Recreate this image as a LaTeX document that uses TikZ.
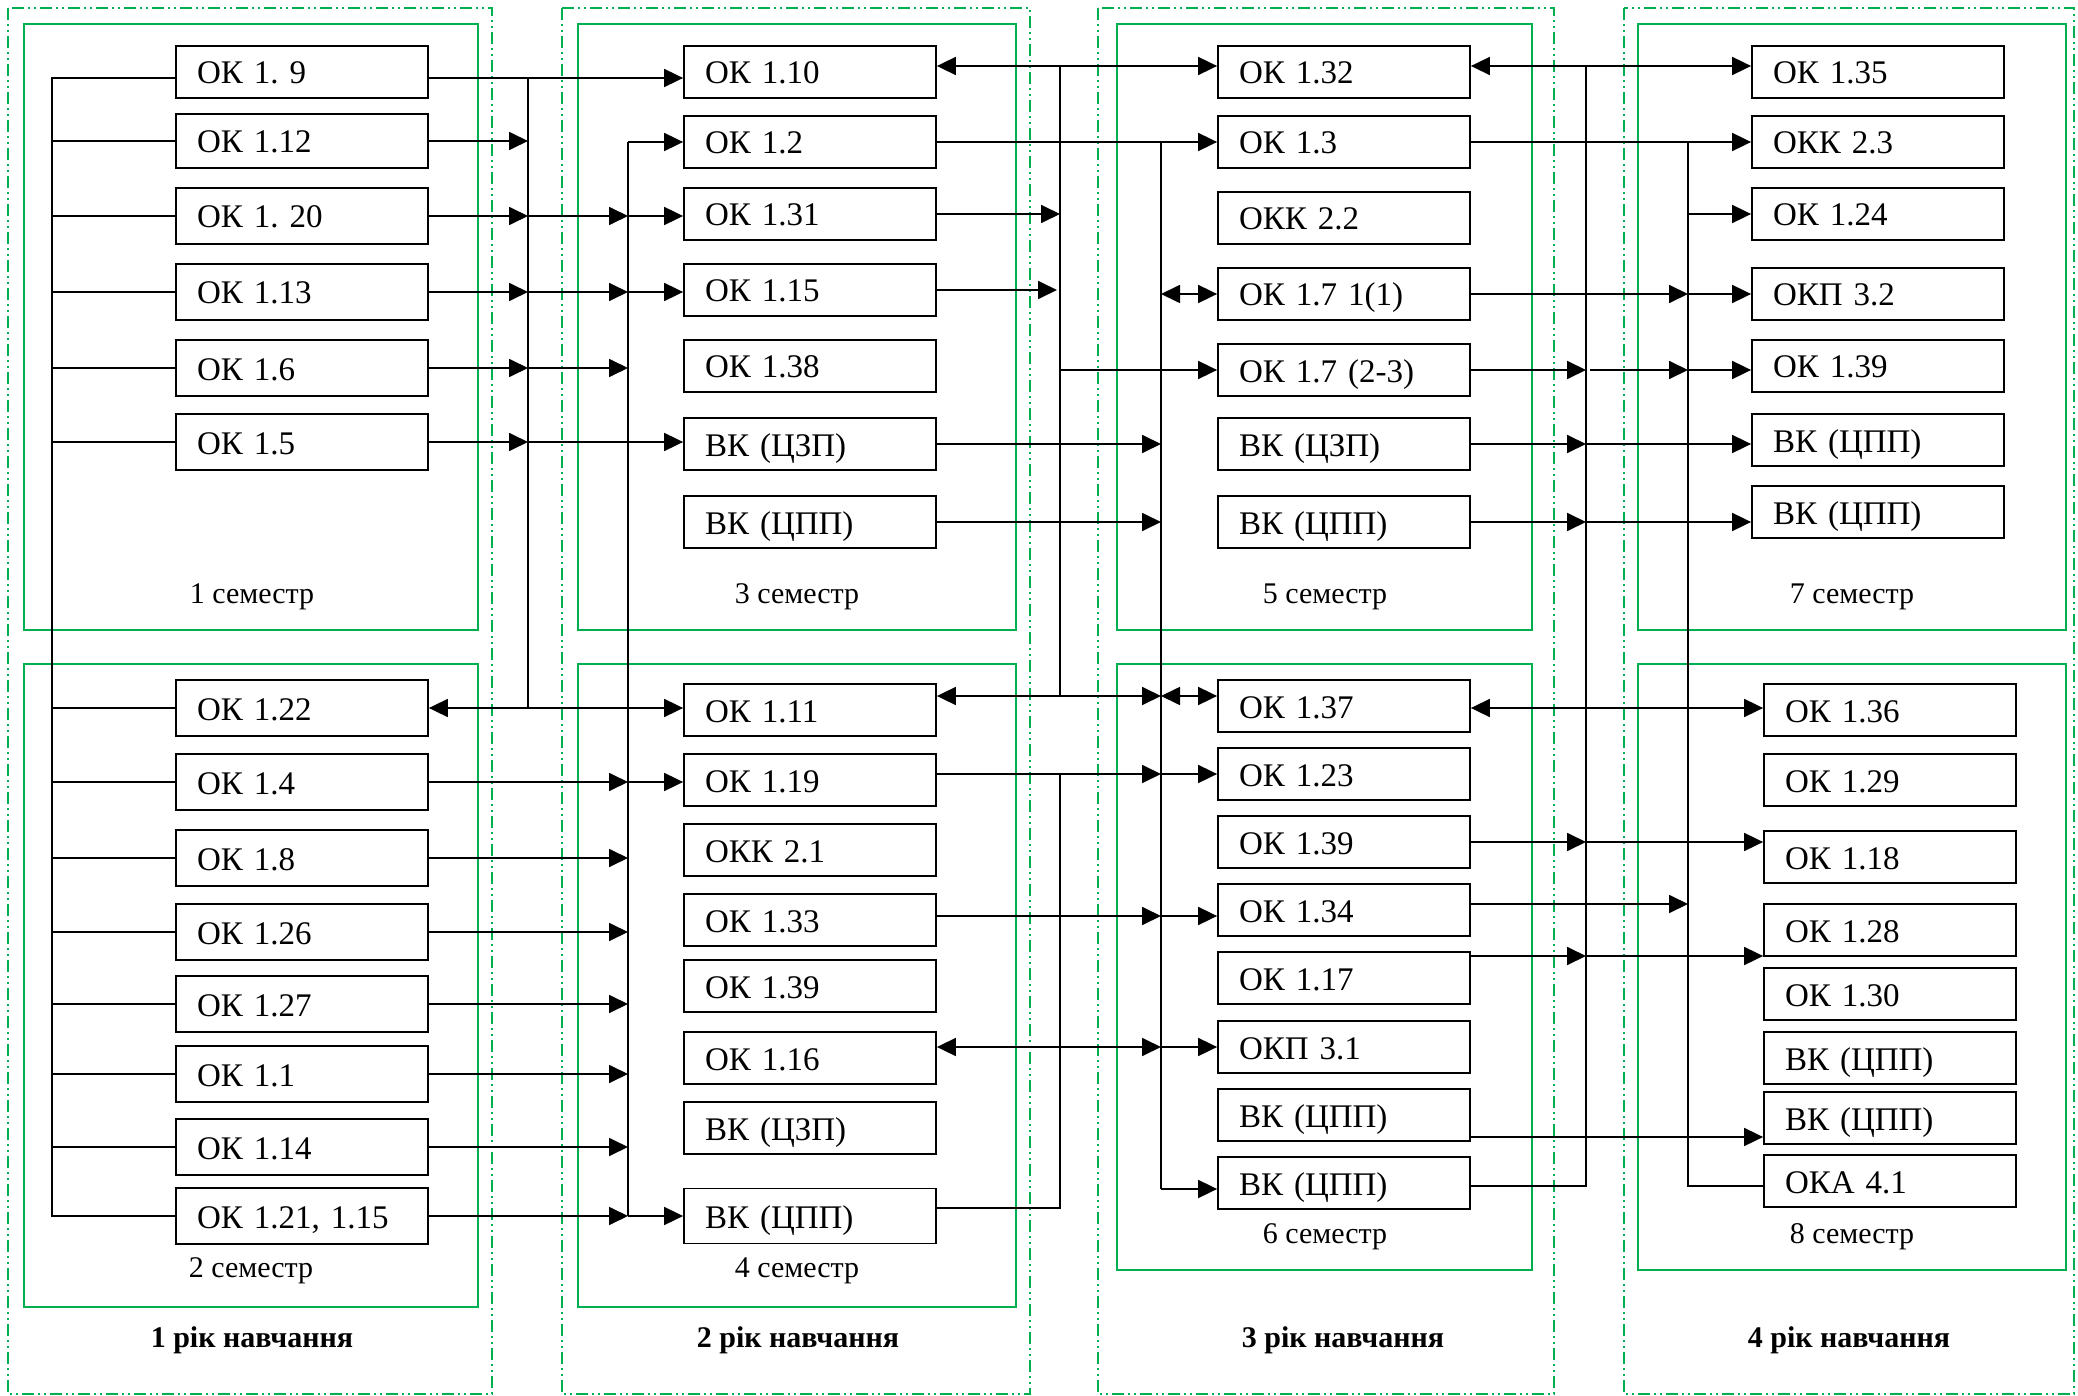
\documentclass[tikz,border=0pt]{standalone}
\usepackage{fontspec}
\setmainfont{Liberation Serif}
\usetikzlibrary{arrows.meta}
\definecolor{sgreen}{RGB}{0,176,80}
\frenchspacing
\begin{document}
\begin{tikzpicture}[x=0.5pt,y=-0.5pt,
 box/.style={draw, line width=0.9pt, fill=white, minimum width=126pt, minimum height=26pt, text width=105pt, inner xsep=10.5pt, inner ysep=0pt, align=left, text height=12pt, text depth=0pt, font=\fontsize{16.5}{19}\selectfont},
 boxa/.style={box, minimum height=28pt},
 semframe/.style={draw=sgreen, line width=0.75pt},
 yearframe/.style={draw=sgreen, line width=0.75pt, dash pattern=on 6pt off 2pt on 1pt off 2pt on 1pt off 2pt},
 ln/.style={line width=0.9pt},
 arr/.style={ln, -{Triangle[length=9.5pt,width=9pt]}},
 arrtwo/.style={ln, {Triangle[length=9.5pt,width=9pt]}-{Triangle[length=9.5pt,width=9pt]}},
 semlbl/.style={font=\fontsize{15}{18}\selectfont, inner sep=0pt, anchor=base},
 yearlbl/.style={font=\fontsize{15}{18}\selectfont\bfseries, inner sep=0pt, anchor=base}]
\useasboundingbox (0,0) rectangle (2078,1396);
% frames
\draw[yearframe] (8,8) rectangle (492,1394);
\draw[yearframe] (562,8) rectangle (1030,1394);
\draw[yearframe] (1098,8) rectangle (1554,1394);
\draw[yearframe] (1624,8) rectangle (2074,1394);
\draw[semframe] (24,24) rectangle (478,630);
\draw[semframe] (24,664) rectangle (478,1307);
\draw[semframe] (578,24) rectangle (1016,630);
\draw[semframe] (578,664) rectangle (1016,1307);
\draw[semframe] (1117,24) rectangle (1532,630);
\draw[semframe] (1117,664) rectangle (1532,1270);
\draw[semframe] (1638,24) rectangle (2066,630);
\draw[semframe] (1638,664) rectangle (2066,1270);
% labels
\node[semlbl] (s1) at (252,603) {1 семестр};
\node[semlbl] (s2) at (251,1277) {2 семестр};
\node[semlbl] (s3) at (797,603) {3 семестр};
\node[semlbl] (s4) at (797,1277) {4 семестр};
\node[semlbl] (s5) at (1325,603) {5 семестр};
\node[semlbl] (s6) at (1325,1243) {6 семестр};
\node[semlbl] (s7) at (1852,603) {7 семестр};
\node[semlbl] (s8) at (1852,1243) {8 семестр};
\node[yearlbl] (y1) at (252,1347) {1 рік навчання};
\node[yearlbl] (y2) at (798,1347) {2 рік навчання};
\node[yearlbl] (y3) at (1343,1347) {3 рік навчання};
\node[yearlbl] (y4) at (1849,1347) {4 рік навчання};
% year 1
\node[box] (ok19) at (302,72) {ОК 1. 9};
\node[box, minimum height=27pt] (ok112) at (302,141) {ОК 1.12};
\node[boxa] (ok120) at (302,216) {ОК 1. 20};
\node[boxa] (ok113) at (302,292) {ОК 1.13};
\node[boxa] (ok16) at (302,368) {ОК 1.6};
\node[boxa] (ok15) at (302,442) {ОК 1.5};
\node[boxa] (ok122) at (302,708) {ОК 1.22};
\node[boxa] (ok14) at (302,782) {ОК 1.4};
\node[boxa] (ok18) at (302,858) {ОК 1.8};
\node[boxa] (ok126) at (302,932) {ОК 1.26};
\node[boxa] (ok127) at (302,1004) {ОК 1.27};
\node[boxa] (ok11) at (302,1074) {ОК 1.1};
\node[boxa] (ok114) at (302,1147) {ОК 1.14};
\node[boxa] (ok121) at (302,1216) {ОК 1.21, 1.15};
% year 2
\node[box] (ok110) at (810,72) {ОК 1.10};
\node[box] (ok12) at (810,142) {ОК 1.2};
\node[box] (ok131) at (810,214) {ОК 1.31};
\node[box] (ok115) at (810,290) {ОК 1.15};
\node[box] (ok138) at (810,366) {ОК 1.38};
\node[box] (vkz3) at (810,444) {ВК (ЦЗП)};
\node[box] (vkp3) at (810,522) {ВК (ЦПП)};
\node[box] (ok111) at (810,710) {ОК 1.11};
\node[box] (ok119) at (810,780) {ОК 1.19};
\node[box] (okk21) at (810,850) {ОКК 2.1};
\node[box] (ok133) at (810,920) {ОК 1.33};
\node[box] (ok139b) at (810,986) {ОК 1.39};
\node[box] (ok116) at (810,1058) {ОК 1.16};
\node[box] (vkz4) at (810,1128) {ВК (ЦЗП)};
\node[box, minimum height=27.5pt] (vkp4) at (810,1216) {ВК (ЦПП)};
% year 3
\node[box] (ok132) at (1344,72) {ОК 1.32};
\node[box] (ok13) at (1344,142) {ОК 1.3};
\node[box] (okk22) at (1344,218) {ОКК 2.2};
\node[box] (ok171) at (1344,294) {ОК 1.7 1(1)};
\node[box] (ok1723) at (1344,370) {ОК 1.7 (2-3)};
\node[box] (vkz5) at (1344,444) {ВК (ЦЗП)};
\node[box] (vkp5) at (1344,522) {ВК (ЦПП)};
\node[box] (ok137) at (1344,706) {ОК 1.37};
\node[box] (ok123) at (1344,774) {ОК 1.23};
\node[box] (ok139c) at (1344,842) {ОК 1.39};
\node[box] (ok134) at (1344,910) {ОК 1.34};
\node[box] (ok117) at (1344,978) {ОК 1.17};
\node[box] (okp31) at (1344,1047) {ОКП 3.1};
\node[box] (vkp6a) at (1344,1115) {ВК (ЦПП)};
\node[box] (vkp6b) at (1344,1183) {ВК (ЦПП)};
% year 4
\node[box] (ok135) at (1878,72) {ОК 1.35};
\node[box] (okk23) at (1878,142) {ОКК 2.3};
\node[box] (ok124) at (1878,214) {ОК 1.24};
\node[box] (okp32) at (1878,294) {ОКП 3.2};
\node[box] (ok139d) at (1878,366) {ОК 1.39};
\node[box] (vkp7a) at (1878,440) {ВК (ЦПП)};
\node[box] (vkp7b) at (1878,512) {ВК (ЦПП)};
\node[box] (ok136) at (1890,710) {ОК 1.36};
\node[box] (ok129) at (1890,780) {ОК 1.29};
\node[box] (ok118) at (1890,857) {ОК 1.18};
\node[box] (ok128) at (1890,930) {ОК 1.28};
\node[box] (ok130) at (1890,994) {ОК 1.30};
\node[box] (vkp8a) at (1890,1058) {ВК (ЦПП)};
\node[box] (vkp8b) at (1890,1118) {ВК (ЦПП)};
\node[box] (oka41) at (1890,1181) {ОКА 4.1};
% bus columns and shifted rows
\coordinate (X1) at (52,0);
\coordinate (X2) at (528,0);
\coordinate (X3) at (628,0);
\coordinate (XA) at (1060,0);
\coordinate (XB) at (1161,0);
\coordinate (XC) at (1586,0);
\coordinate (XD) at (1688,0);
\coordinate (r78) at ([yshift=-3pt]ok19.east);
\coordinate (r66) at ([yshift=3pt]ok110.east);
\coordinate (r696) at ([yshift=7pt]ok111.east);
\coordinate (r916) at ([yshift=2pt]ok133.east);
\coordinate (r1208) at ([yshift=4pt]vkp4.east);
\coordinate (r1189) at ([yshift=-3pt]vkp6b.west);
\coordinate (r1186) at ([yshift=-1.5pt]vkp6b.east);
\coordinate (r708) at ([yshift=-1pt]ok137.east);
\coordinate (r904) at ([yshift=3pt]ok134.east);
\coordinate (r956) at ([yshift=11pt]ok117.east);
\coordinate (r1137) at ([yshift=-11pt]vkp6a.east);
% left bus
\draw[ln] (ok19.west |- r78) -- (r78 -| X1) -- (ok121.west -| X1) -- (ok121.west);
\foreach \n in {ok112,ok120,ok113,ok16,ok15,ok122,ok14,ok18,ok126,ok127,ok11,ok114}
  \draw[ln] (\n.west) -- (\n.west -| X1);
% year 1 -> year 2
\draw[arr] (r78) -- (r78 -| ok110.west);
\draw[ln] (r78 -| X2) -- (ok122.east -| X2);
\draw[arr] (ok112.east) -- (ok112.east -| X2);
\draw[arr] (ok120.east) -- (ok120.east -| X2);
\draw[arr] (ok120.east -| X2) -- (ok120.east -| X3);
\draw[arr] (ok120.east -| X3) -- (ok120.east -| ok131.west);
\draw[arr] (ok113.east) -- (ok113.east -| X2);
\draw[arr] (ok113.east -| X2) -- (ok113.east -| X3);
\draw[arr] (ok113.east -| X3) -- (ok113.east -| ok115.west);
\draw[arr] (ok16.east) -- (ok16.east -| X2);
\draw[arr] (ok16.east -| X2) -- (ok16.east -| X3);
\draw[arr] (ok15.east) -- (ok15.east -| X2);
\draw[arr] (ok15.east -| X2) -- (ok15.east -| vkz3.west);
\draw[arr] (ok122.east -| X2) -- (ok122.east);
\draw[arr] (ok122.east -| X2) -- (ok122.east -| ok111.west);
\draw[arr] (ok12.west -| X3) -- (ok12.west);
\draw[ln] (ok12.west -| X3) -- (ok121.east -| X3);
\draw[arr] (ok14.east) -- (ok14.east -| X3);
\draw[arr] (ok14.east -| X3) -- (ok14.east -| ok119.west);
\foreach \n in {ok18,ok126,ok127,ok11,ok114}
  \draw[arr] (\n.east) -- (\n.east -| X3);
\draw[arr] (ok121.east) -- (ok121.east -| X3);
\draw[arr] (ok121.east -| X3) -- (ok121.east -| vkp4.west);
% year 2 -> year 3
\draw[arrtwo] (r66) -- (r66 -| ok132.west);
\draw[ln] (r66 -| XA) -- (r696 -| XA);
\draw[arr] (ok12.east) -- (ok12.east -| ok13.west);
\draw[ln] (ok12.east -| XB) -- (r1189 -| XB);
\draw[arr] (r1189 -| XB) -- (r1189);
\draw[arr] (ok131.east) -- (ok131.east -| XA);
\draw[arr] (ok115.east) -- ([xshift=-1.5pt]ok115.east -| XA);
\draw[arr] (ok1723.west -| XA) -- (ok1723.west);
\draw[arrtwo] (ok171.west -| XB) -- (ok171.west);
\draw[arr] (vkz3.east) -- (vkz3.east -| XB);
\draw[arr] (vkp3.east) -- (vkp3.east -| XB);
\draw[arr] (r696 -| XA) -- (r696);
\draw[arr] (r696 -| XA) -- (r696 -| XB);
\draw[arrtwo] (r696 -| XB) -- (r696 -| ok137.west);
\draw[arr] (ok123.west -| ok119.east) -- (ok123.west -| XB);
\draw[arr] (ok123.west -| XB) -- (ok123.west);
\draw[ln] (ok123.west -| XA) -- (r1208 -| XA) -- (r1208);
\draw[arr] (r916) -- (r916 -| XB);
\draw[arr] (r916 -| XB) -- (r916 -| ok134.west);
\draw[arrtwo] (okp31.west -| ok116.east) -- (okp31.west -| XB);
\draw[arr] (okp31.west -| XB) -- (okp31.west);
% year 3 -> year 4
\draw[arrtwo] (r66 -| ok132.east) -- (r66 -| ok135.west);
\draw[ln] (r66 -| XC) -- (r1186 -| XC) -- (r1186);
\draw[arr] (ok13.east) -- (ok13.east -| okk23.west);
\draw[ln] (ok13.east -| XD) -- (r1186 -| XD) -- (r1186 -| oka41.west);
\draw[arr] (ok124.west -| XD) -- (ok124.west);
\draw[arr] (ok171.east) -- (ok171.east -| XD);
\draw[arr] (ok171.east -| XD) -- (ok171.east -| okp32.west);
\draw[arr] (ok1723.east) -- (ok1723.east -| XC);
\draw[arr] ([xshift=2pt]ok1723.east -| XC) -- (ok1723.east -| XD);
\draw[arr] (ok1723.east -| XD) -- (ok1723.east -| ok139d.west);
\draw[arr] (vkz5.east) -- (vkz5.east -| XC);
\draw[arr] (vkz5.east -| XC) -- (vkz5.east -| vkp7a.west);
\draw[arr] (vkp5.east) -- (vkp5.east -| XC);
\draw[arr] (vkp5.east -| XC) -- (vkp5.east -| vkp7b.west);
\draw[arrtwo] (r708) -- (r708 -| ok136.west);
\draw[arr] (ok139c.east) -- (ok139c.east -| XC);
\draw[arr] (ok139c.east -| XC) -- (ok139c.east -| ok118.west);
\draw[arr] (r904) -- (r904 -| XD);
\draw[arr] (r956) -- (r956 -| XC);
\draw[arr] (r956 -| XC) -- (r956 -| ok128.west);
\draw[arr] (r1137) -- (r1137 -| vkp8b.west);
\end{tikzpicture}
\end{document}
